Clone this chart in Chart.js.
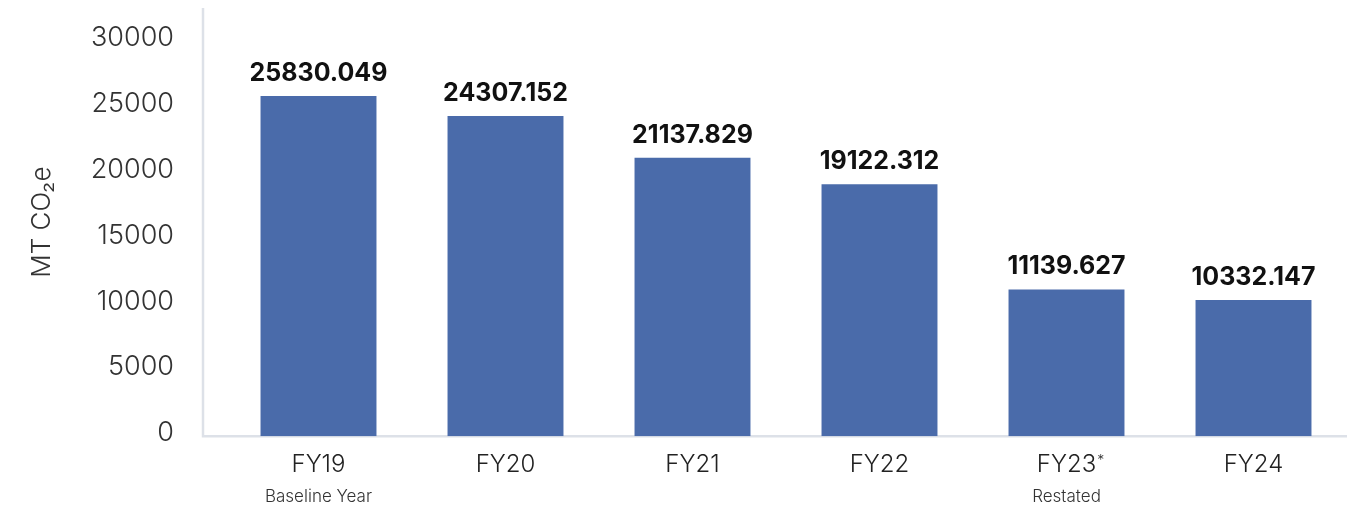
<!DOCTYPE html>
<html>
<head>
<meta charset="utf-8">
<script src="https://cdn.jsdelivr.net/npm/chart.js@4/dist/chart.umd.min.js"></script>
<style>
  html, body { margin: 0; padding: 0; background: #fff; }
  #wrap { width: 1347px; height: 509px; position: relative; }
</style>
</head>
<body>
<div id="wrap"><canvas id="co2Chart"></canvas></div>
<script>
const years = ['FY19', 'FY20', 'FY21', 'FY22', 'FY23', 'FY24'];
const yearNotes = ['', '', '', '', '*', ''];
const subLabels = ['Baseline Year', '', '', '', 'Restated', ''];
const emissions = [25830.049, 24307.152, 21137.829, 19122.312, 11139.627, 10332.147];
const yTicks = [0, 5000, 10000, 15000, 20000, 25000, 30000];

const AXIS_COLOR = '#dde1e8';
const BAR_COLOR = '#4a6baa';
const TICK_FONT = '300 24px Inter, Roboto, sans-serif';

// value labels above bars, notes/sub labels under the x ticks, detached axis lines
const extras = {
    id: 'extras',
    beforeDatasetsDraw(chart) {
        const ctx = chart.ctx;
        const area = chart.chartArea;
        const axisX = area.left - 22;
        ctx.save();
        ctx.strokeStyle = AXIS_COLOR;
        ctx.lineWidth = 2.5;
        ctx.beginPath();
        ctx.moveTo(axisX, area.top);
        ctx.lineTo(axisX, area.bottom);
        ctx.lineTo(chart.width, area.bottom);
        ctx.stroke();
        ctx.restore();
    },
    afterDatasetsDraw(chart) {
        const ctx = chart.ctx;
        const meta = chart.getDatasetMeta(0);
        const xScale = chart.scales.x;
        const bottom = chart.chartArea.bottom;
        ctx.save();
        ctx.fillStyle = '#111';
        ctx.font = 'bold 25px Inter, Roboto, sans-serif';
        ctx.textAlign = 'center';
        ctx.textBaseline = 'alphabetic';
        meta.data.forEach((bar, i) => {
            ctx.fillText(emissions[i].toFixed(3), bar.x, bar.y - 15);
        });

        // small raised note marks after the year labels
        ctx.fillStyle = '#333';
        ctx.textAlign = 'left';
        ctx.textBaseline = 'top';
        yearNotes.forEach((n, i) => {
            if (!n) return;
            ctx.font = TICK_FONT;
            const w = ctx.measureText(years[i]).width;
            ctx.font = '300 14px Inter, Roboto, sans-serif';
            ctx.fillText(n, xScale.getPixelForValue(i) + w / 2 + 1, bottom + 18);
        });

        ctx.font = '300 17px Inter, Roboto, sans-serif';
        ctx.textAlign = 'center';
        ctx.textBaseline = 'middle';
        subLabels.forEach((s, i) => {
            if (s) ctx.fillText(s, xScale.getPixelForValue(i), bottom + 61);
        });
        ctx.restore();
    }
};

new Chart(document.getElementById('co2Chart').getContext('2d'), {
    type: 'bar',
    data: {
        labels: years,
        datasets: [{
            data: emissions,
            backgroundColor: BAR_COLOR,
            borderWidth: 0,
            barPercentage: 0.62,
            categoryPercentage: 1
        }]
    },
    options: {
        responsive: true,
        maintainAspectRatio: false,
        animation: false,
        layout: { padding: { top: 8, right: 0, bottom: 16, left: 0 } },
        plugins: {
            legend: { display: false },
            tooltip: { enabled: false }
        },
        scales: {
            x: {
                grid: { display: false, drawTicks: false },
                border: { display: false },
                ticks: {
                    color: '#222',
                    font: { family: 'Inter', weight: 300, size: 24 },
                    padding: 14,
                    maxRotation: 0
                }
            },
            y: {
                min: 0,
                max: 32500,
                afterBuildTicks: scale => {
                    scale.ticks = yTicks.map(v => ({ value: v }));
                },
                afterFit: scale => {
                    scale.width = 225;
                    scale.paddingTop = 0;
                    scale.paddingBottom = 0;
                },
                grid: { display: false, drawTicks: false },
                border: { display: false },
                ticks: {
                    color: '#333',
                    font: { family: 'Inter', weight: 300, size: 27 },
                    padding: 51,
                    labelOffset: -3,
                    callback: v => String(v)
                },
                title: {
                    display: true,
                    text: 'MT CO\u2082e',
                    color: '#333',
                    font: { family: 'Inter', weight: 300, size: 26 },
                    padding: { top: 27, bottom: 30 }
                }
            }
        }
    },
    plugins: [extras]
});
</script>
</body>
</html>
